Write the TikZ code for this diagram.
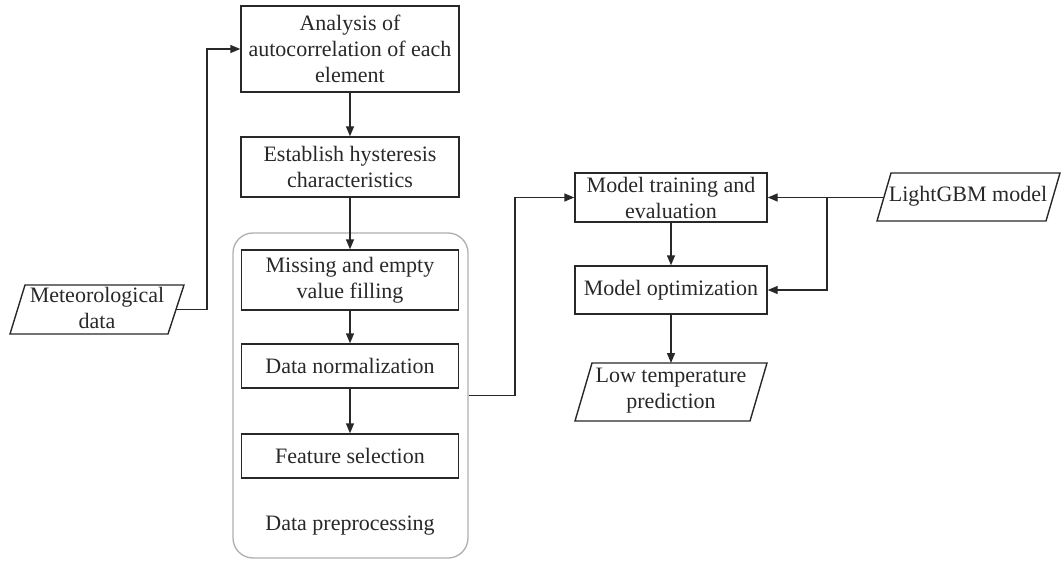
\documentclass[tikz,border=0pt]{standalone}
\usepackage{fontspec}
\setmainfont{Liberation Serif}
\usetikzlibrary{arrows.meta}
\definecolor{ink}{RGB}{40,40,40}
\definecolor{frame}{RGB}{175,175,175}
\begin{document}
\begin{tikzpicture}[x=1pt,y=-1pt,
  every node/.style={font=\fontsize{22}{26}\selectfont, align=center, inner sep=0pt, text=ink},
  line/.style={line width=1.4pt, draw=ink},
  box/.style={line, rectangle},
  arr/.style={line, -{Triangle[length=10pt,width=8pt]}},
  group/.style={draw=frame, line width=1.3pt, rounded corners=20pt}]
\useasboundingbox (0,0) rectangle (1062,561);

% preprocessing group
\node[group, minimum width=235, minimum height=325] (pre) at (350.5,395.5) {};
\node (prelabel) at (350,526) {Data preprocessing};

% main column
\node[box, draw, minimum width=218, minimum height=86] (a) at (350,49) {Analysis of\\autocorrelation of each\\element};
\node[box, draw, minimum width=218, minimum height=60] (b) at (350,167) {Establish hysteresis\\characteristics};
\node[box, draw, minimum width=217, minimum height=60] (miss) at (350,280) {Missing and empty\\value filling};
\node[box, draw, minimum width=217, minimum height=44] (norm) at (350,366) {Data normalization};
\node[box, draw, minimum width=217, minimum height=44] (feat) at (350,456) {Feature selection};

% right column
\node[box, draw, minimum width=192, minimum height=49] (mt) at (671,197.5) {Model training and\\evaluation};
\node[box, draw, minimum width=192, minimum height=48] (mo) at (671,290) {Model optimization};

% parallelograms (input / output)
\node (meteo) at (97,308) {Meteorological\\data};
\draw[line] (25,285) -- (184,285) -- (168,334) -- (10,334) -- cycle;
\coordinate (meteoR) at (176,309.5);

\node (lgbm) at (968,196) {LightGBM model};
\draw[line] (891,173) -- (1060,173) -- (1046,221) -- (877,221) -- cycle;
\coordinate (lgbmL) at (884,197.5);

\node (low) at (671,391) {Low temperature\\prediction};
\draw[line] (592,363) -- (767,363) -- (750,421) -- (575,421) -- cycle;
\coordinate (lowT) at (671,363);

% junctions
\coordinate (j0) at (207,309.5);
\coordinate (j1) at (515,395.5);
\coordinate (j2) at (827,197.5);

% connectors
\draw[arr] (meteoR) -- (j0) |- (a.west);
\draw[arr] (a) -- (b);
\draw[arr] (b) -- (miss);
\draw[arr] (miss) -- (norm);
\draw[arr] (norm) -- (feat);
\draw[arr] (pre.east) -- (j1) |- (mt.west);
\draw[arr] (lgbmL) -- (mt.east);
\draw[arr] (j2) |- (mo.east);
\draw[arr] (mt) -- (mo);
\draw[arr] (mo.south) -- (lowT);
\end{tikzpicture}
\end{document}
